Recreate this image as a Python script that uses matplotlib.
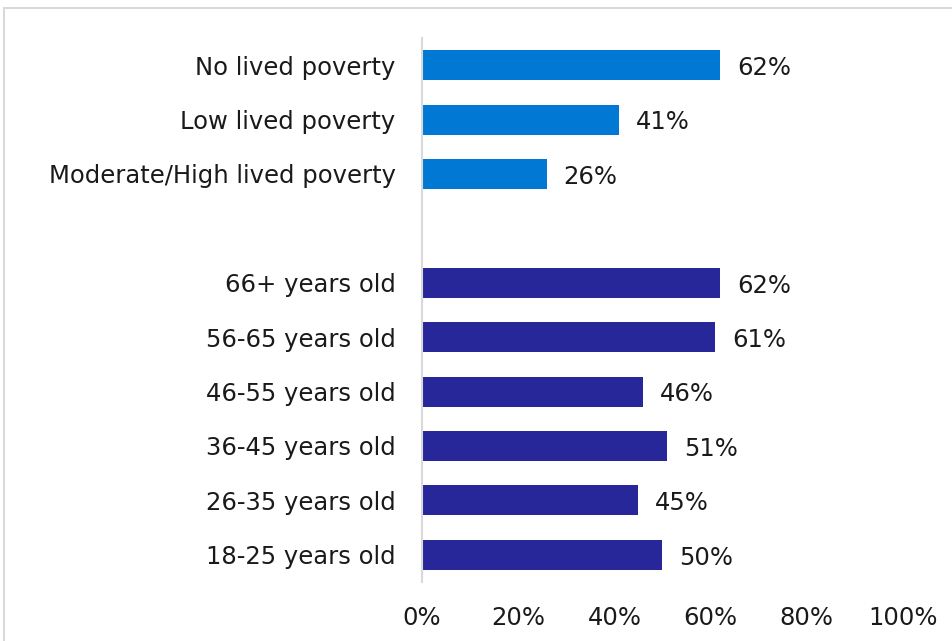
import matplotlib
matplotlib.use("Agg")
import matplotlib.pyplot as plt
from matplotlib.patches import Rectangle

# Share of respondents in each group
poverty_groups = ["No lived poverty", "Low lived poverty", "Moderate/High lived poverty"]
poverty_values = [62, 41, 26]

age_groups = ["66+ years old", "56-65 years old", "46-55 years old",
              "36-45 years old", "26-35 years old", "18-25 years old"]
age_values = [62, 61, 46, 51, 45, 50]

x_ticks = [0, 20, 40, 60, 80, 100]
x_tick_labels = ["0%", "20%", "40%", "60%", "80%", "100%"]

poverty_color = "#0078D4"
age_color = "#27279A"
text_color = "#1a1a1a"

plt.rcParams["font.family"] = ["DejaVu Sans"]
fs = 17.5

fig = plt.figure(figsize=(9.53, 6.41), dpi=100)
ax = fig.add_axes([422 / 953, 1 - 582 / 641, (903 - 422) / 953, (582 - 38) / 641])

# one empty slot separates the two groups
labels = poverty_groups + [""] + age_groups
positions = list(range(len(labels)))
pov_pos = positions[:len(poverty_groups)]
age_pos = positions[len(poverty_groups) + 1:]

bar_h = 0.55
ax.barh(pov_pos, poverty_values, height=bar_h, color=poverty_color)
ax.barh(age_pos, age_values, height=bar_h, color=age_color)

for p, v in zip(pov_pos + age_pos, poverty_values + age_values):
    ax.annotate(f"{v}%", (v, p), xytext=(12, -2), textcoords="offset points",
                va="center", ha="left", fontsize=fs, color=text_color)

ax.set_xlim(0, 100)
ax.set_ylim(len(labels) - 0.5, -0.5)
ax.set_yticks(positions)
ax.set_yticklabels(labels, fontsize=fs, color=text_color)
ax.set_xticks(x_ticks)
ax.set_xticklabels(x_tick_labels, fontsize=fs, color=text_color)
ax.tick_params(axis="y", length=0, pad=19)
ax.tick_params(axis="x", length=0, pad=17)

for side in ["top", "right", "bottom"]:
    ax.spines[side].set_visible(False)
ax.spines["left"].set_color("#D9D9D9")
ax.spines["left"].set_linewidth(1.5)

# light frame around the chart area
fig.patches.append(Rectangle((4 / 953, -0.01), 1.0, 1 - 8 / 641 + 0.01,
                             transform=fig.transFigure, fill=False,
                             edgecolor="#D9D9D9", linewidth=1.5))

fig.savefig("out.png", dpi=100)
